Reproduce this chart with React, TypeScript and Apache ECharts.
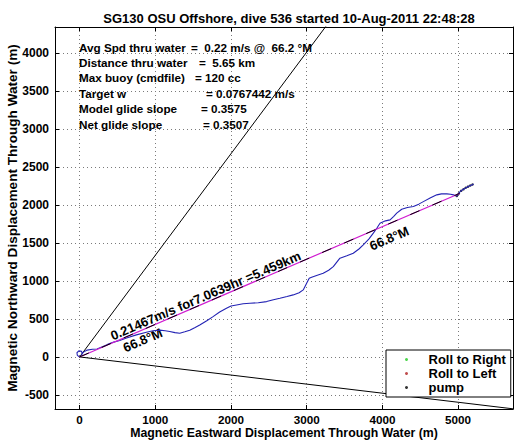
import React, { useEffect, useRef } from 'react';
import * as echarts from 'echarts';

// ---------- data ----------
const titleText = 'SG130 OSU Offshore, dive 536 started 10-Aug-2011 22:48:28';
const xAxisName = 'Magnetic Eastward Displacement Through Water (m)';
const yAxisName = 'Magnetic Northward Displacement Through Water (m)';
const xRange = [-325, 5725];
const yRange = [-685, 4340];

const trackEast = [0, -30, -35, -10, 25, 35, 20, 45, 100, 170, 230, 300, 370, 450, 530, 620, 750, 882, 970, 1058, 1130, 1190, 1260, 1323, 1390, 1455, 1520, 1587, 1680, 1763, 1850, 1940, 2000, 2073, 2160, 2249, 2360, 2470, 2560, 2646, 2740, 2821, 2900, 2954, 2999, 3033, 3065, 3140, 3218, 3290, 3351, 3400, 3439, 3530, 3615, 3690, 3747, 3820, 3880, 3930, 3968, 4040, 4101, 4150, 4189, 4255, 4330, 4409, 4480, 4541, 4630, 4718, 4780, 4851, 4900, 4938, 4983, 5026, 5060, 5093, 5140, 5181, 5205];
const trackNorth = [0, 20, 55, 80, 75, 45, 15, 60, 90, 100, 105, 135, 165, 195, 215, 250, 290, 325, 345, 352, 345, 335, 320, 312, 330, 352, 385, 421, 475, 530, 590, 641, 670, 684, 700, 707, 712, 728, 752, 772, 795, 816, 845, 882, 970, 1035, 1049, 1075, 1101, 1140, 1188, 1250, 1299, 1330, 1364, 1420, 1474, 1550, 1628, 1700, 1759, 1790, 1803, 1850, 1891, 1943, 1965, 1978, 2010, 2043, 2090, 2132, 2145, 2145, 2140, 2132, 2118, 2175, 2200, 2220, 2245, 2263, 2275];

const pumpEast = [4983, 5010, 5040, 5070, 5100, 5130, 5160, 5190];
const pumpNorth = [2118, 2150, 2185, 2205, 2225, 2240, 2255, 2268];
const rollRightEast: number[] = [];
const rollRightNorth: number[] = [];
const rollLeftEast: number[] = [];
const rollLeftNorth: number[] = [];

const headingDeg = 66.8;
const headingSpreadDeg = 30;
const netDistanceM = 5459;
const fanLengthM = 9000;

const infoLabels = ['Avg Spd thru water', 'Distance thru water', 'Max buoy (cmdfile)', 'Target w', 'Model glide slope', 'Net glide slope'];
const infoValues = ['=  0.22 m/s @  66.2 °M', '=  5.65 km', '= 120 cc', '= 0.0767442 m/s', '= 0.3575', '= 0.3507'];
const lineLabel = '0.21467m/s for7.0639hr =5.459km';
const headingLabel = '66.8°M';
const legendNames = ['Roll to Right', 'Roll to Left', 'pump'];

// ---------- layout (pixels) ----------
const infoLabelX = 79;
const infoValueX = [191, 199, 195, 206, 201, 203];
const infoRowY0 = 47;
const infoRowStep = 15.4;

const FONT = '"Liberation Sans", Arial, Helvetica, sans-serif';

const toEN = (deg: number, dist: number): number[] => [
  dist * Math.sin((deg * Math.PI) / 180),
  dist * Math.cos((deg * Math.PI) / 180),
];

const zip = (a: number[], b: number[]) => a.map((v, i) => [v, b[i]]);

export default function App() {
  const ref = useRef<HTMLDivElement>(null);

  useEffect(() => {
    if (!ref.current) return;
    const chart = echarts.init(ref.current, null, { renderer: 'svg' });

    const axisCommon = {
      type: 'value' as const,
      axisLine: { show: true, onZero: false, lineStyle: { color: '#000', width: 1 } },
      axisTick: { show: true, inside: true, length: 4, lineStyle: { color: '#000', width: 1 } },
    };

    const labelFmt = (step: number) => (v: number) => (Math.abs(v % step) < 1e-6 ? String(v) : '');

    const option: any = {
      animation: false,
      backgroundColor: '#fff',
      title: {
        text: titleText,
        left: 284,
        textAlign: 'center',
        top: 7,
        textStyle: { fontFamily: FONT, fontWeight: 'bold', fontSize: 13, color: '#000' },
      },
      grid: { left: 55, right: 9, top: 27, bottom: 33, outerBoundsMode: 'none', containLabel: false },
      legend: {
        orient: 'vertical',
        left: 386,
        top: 350,
        padding: [3, 5, 3, 19],
        itemGap: 1,
        itemWidth: 34,
        itemHeight: 3,
        backgroundColor: '#fff',
        borderColor: '#000',
        borderWidth: 1,
        borderRadius: 0,
        data: legendNames.map((n) => ({ name: n, icon: 'circle' })),
        textStyle: { fontFamily: FONT, fontWeight: 'bold', fontSize: 13, color: '#000', padding: [1, 0, 0, 0] },
        selectedMode: false,
      },
      xAxis: [
        {
          ...axisCommon,
          position: 'bottom',
          min: xRange[0],
          max: xRange[1],
          splitNumber: 6,
          name: xAxisName,
          nameLocation: 'middle',
          nameGap: 18,
          nameMoveOverlap: false,
          nameTextStyle: { fontFamily: FONT, fontWeight: 'bold', fontSize: 12.3, color: '#000' },
          axisLabel: {
            show: true, margin: 4, showMinLabel: false, showMaxLabel: false,
            fontFamily: FONT, fontWeight: 'bold', fontSize: 11.7, color: '#000',
            formatter: labelFmt(1000),
          },
          splitLine: { show: true, lineStyle: { color: '#7a7a7a', width: 1, type: [1, 3] } },
        },
        {
          ...axisCommon,
          position: 'top',
          min: xRange[0],
          max: xRange[1],
          splitNumber: 6,
          axisLabel: { show: false },
          splitLine: { show: false },
        },
      ],
      yAxis: [
        {
          ...axisCommon,
          position: 'left',
          min: yRange[0],
          max: yRange[1],
          splitNumber: 10,
          name: yAxisName,
          nameLocation: 'middle',
          nameGap: 36,
          nameMoveOverlap: false,
          nameTextStyle: { fontFamily: FONT, fontWeight: 'bold', fontSize: 13.6, color: '#000' },
          axisLabel: {
            show: true, margin: 6, showMinLabel: false, showMaxLabel: false,
            fontFamily: FONT, fontWeight: 'bold', fontSize: 12, color: '#000',
            formatter: labelFmt(500),
          },
          splitLine: { show: true, lineStyle: { color: '#7a7a7a', width: 1, type: [1, 3] } },
        },
        {
          ...axisCommon,
          position: 'right',
          min: yRange[0],
          max: yRange[1],
          splitNumber: 10,
          axisLabel: { show: false },
          splitLine: { show: false },
        },
      ],
      series: [
        {
          name: 'fanLeft', type: 'line', xAxisIndex: 0, yAxisIndex: 0, clip: true, silent: true,
          showSymbol: false, symbol: 'none',
          data: [[0, 0], toEN(headingDeg - headingSpreadDeg, fanLengthM)],
          lineStyle: { color: '#000', width: 1 },
        },
        {
          name: 'fanRight', type: 'line', xAxisIndex: 0, yAxisIndex: 0, clip: true, silent: true,
          showSymbol: false, symbol: 'none',
          data: [[0, 0], toEN(headingDeg + headingSpreadDeg, fanLengthM)],
          lineStyle: { color: '#000', width: 1 },
        },
        {
          name: 'track', type: 'line', xAxisIndex: 0, yAxisIndex: 0, silent: true,
          showSymbol: false, symbol: 'none',
          data: zip(trackEast, trackNorth),
          lineStyle: { color: '#2323b4', width: 1.1 },
        },
        {
          name: 'net', type: 'line', xAxisIndex: 0, yAxisIndex: 0, silent: true,
          showSymbol: false, symbol: 'none',
          data: [[0, 0], toEN(headingDeg, netDistanceM)],
          lineStyle: { color: '#d01cd0', width: 1.2 },
        },
        {
          name: 'netBlack', type: 'line', xAxisIndex: 0, yAxisIndex: 0, silent: true,
          showSymbol: false, symbol: 'none',
          data: [[0, 0], toEN(headingDeg, netDistanceM)],
          lineStyle: { color: '#000', width: 1, type: [10, 14] },
        },
        {
          name: legendNames[0], type: 'scatter', symbol: 'circle', symbolSize: 2.5,
          data: zip(rollRightEast, rollRightNorth),
          itemStyle: { color: '#22cc22' },
        },
        {
          name: legendNames[1], type: 'scatter', symbol: 'circle', symbolSize: 2.5,
          data: zip(rollLeftEast, rollLeftNorth),
          itemStyle: { color: '#b02020' },
        },
        {
          name: legendNames[2], type: 'scatter', symbol: 'circle', symbolSize: 2.5,
          data: zip(pumpEast, pumpNorth),
          itemStyle: { color: '#000' },
        },
      ],
    };

    chart.setOption(option);

    const px = (p: number[]) => chart.convertToPixel({ xAxisIndex: 0, yAxisIndex: 0 }, p) as number[];
    const p0 = px([0, 0]);
    const pEnd = px(toEN(headingDeg, netDistanceM));
    const rot = Math.atan2(p0[1] - pEnd[1], pEnd[0] - p0[0]);
    const txtStyle = (text: string, va: string, size: number) => ({
      text, fill: '#000', fontFamily: FONT, fontWeight: 'bold', fontSize: size,
      align: 'left', textAlign: 'left', verticalAlign: va, textVerticalAlign: va,
    });
    const along = (s: number, dy: number, text: string, va: string) => {
      const p = px(toEN(headingDeg, s));
      return {
        type: 'group', x: p[0], y: p[1], rotation: rot, silent: true,
        children: [{ type: 'text', x: 0, y: dy, style: txtStyle(text, va, 13) }],
      };
    };

    const graphic: any[] = [
      along(490, 0, lineLabel, 'bottom'),
      along(580, 3, headingLabel, 'top'),
      along(4100, 7, headingLabel, 'top'),
    ];
    infoLabels.forEach((lab, i) => {
      const y = infoRowY0 + i * infoRowStep;
      graphic.push({ type: 'text', x: infoLabelX, y, silent: true, style: txtStyle(lab, 'middle', 11.7) });
      graphic.push({ type: 'text', x: infoValueX[i], y, silent: true, style: txtStyle(infoValues[i], 'middle', 11.7) });
    });
    chart.setOption({ graphic });

    return () => chart.dispose();
  }, []);

  return <div ref={ref} style={{ position: 'fixed', left: 0, top: 0, width: 522, height: 442 }} />;
}
